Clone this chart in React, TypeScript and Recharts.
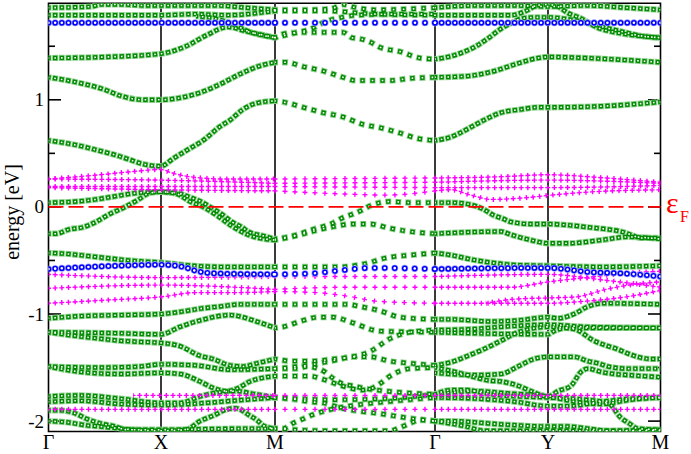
import React from "react";
import { LineChart, Line, XAxis, YAxis, ReferenceLine, ReferenceArea } from "recharts";

type Pt = [number, number];

// k-path positions (pixel-like path units) and labels
const kTicks = [2.5, 115, 229, 389, 502, 614.5];
const kLabels = ["Γ", "X", "M", "Γ", "Y", "M"];
const kInner = [115, 229, 389, 502];
const yTicks = [-2, -1, 0, 1];
const yMinor = [-1.5, -0.5, 0.5, 1.5];
const yMajorMarks = [-2, -1, 0, 1];

// ---- green bands (energy in eV) ----
const u1: Pt[] = [[2.5,1.86],[45,1.87],[55,1.89],[75,1.89],[100,1.88],[115,1.88],[170,1.88],[200,1.86],[229,1.84],[260,1.84],[285,1.85],[297,1.89],[310,1.86],[330,1.84],[389,1.86],[430,1.88],[470,1.88],[502,1.87],[540,1.88],[580,1.86],[614.5,1.84]];
const u2: Pt[] = [[2.5,1.79],[115,1.79],[150,1.80],[180,1.79],[229,1.83],[280,1.83],[330,1.80],[389,1.79],[465,1.79],[480,1.83],[491,1.88],[502,1.89],[512,1.87],[522,1.81],[535,1.76],[550,1.68],[575,1.62],[600,1.59],[614.5,1.58]];
const u4: Pt[] = [[2.5,1.39],[60,1.40],[115,1.43],[140,1.50],[160,1.60],[182,1.68],[200,1.64],[229,1.58],[247,1.62],[267,1.67],[277,1.72],[296,1.77],[310,1.79],[350,1.80],[389,1.80]];
const u5: Pt[] = [[229,1.58],[240,1.62],[260,1.63],[297,1.63],[306,1.58],[314,1.57],[324,1.54],[334,1.49],[354,1.45],[374,1.39],[389,1.38],[402,1.40],[416,1.44],[430,1.50],[443,1.58],[456,1.67],[466,1.72],[476,1.76],[490,1.77],[502,1.77],[530,1.74],[570,1.65],[600,1.59],[614.5,1.58]];
const u6: Pt[] = [[150,1.78],[168,1.76],[183,1.72],[205,1.63],[229,1.58]];
const u7: Pt[] = [[2.5,1.21],[16,1.19],[37,1.15],[57,1.10],[77,1.03],[97,1.00],[115,1.00],[135,1.02],[155,1.07],[175,1.15],[194,1.24],[215,1.32],[229,1.35],[240,1.35],[257,1.31],[277,1.27],[297,1.21],[310,1.18],[344,1.18],[364,1.20],[389,1.21],[420,1.22],[445,1.26],[472,1.34],[492,1.39],[502,1.40],[540,1.39],[614.5,1.35]];
const u8: Pt[] = [[2.5,0.62],[17,0.60],[34,0.57],[51,0.53],[71,0.48],[84,0.44],[97,0.40],[115,0.38],[127,0.45],[141,0.53],[157,0.62],[174,0.75],[184,0.81],[197,0.91],[211,0.97],[229,0.99],[237,0.98],[257,0.93],[277,0.88],[297,0.84],[317,0.77],[334,0.74],[354,0.69],[371,0.64],[389,0.62],[404,0.65],[414,0.69],[424,0.74],[438,0.81],[455,0.88],[475,0.91],[492,0.93],[502,0.93],[555,0.94],[614.5,0.98]];
const m1: Pt[] = [[2.5,0.04],[30,0.05],[50,0.07],[70,0.10],[91,0.13],[115,0.14],[131,0.13],[144,0.09],[157,0.04],[164,0.0],[176,-0.07],[186,-0.14],[196,-0.19],[202,-0.23],[217,-0.27],[229,-0.30],[247,-0.27],[267,-0.21],[287,-0.15],[297,-0.10],[306,-0.07],[316,-0.03],[324,0.01],[334,0.04],[344,0.05],[364,0.04],[389,0.04],[405,0.04],[425,0.02],[437,-0.02],[448,-0.08],[457,-0.11],[465,-0.14],[485,-0.16],[502,-0.16],[522,-0.17],[542,-0.19],[562,-0.21],[575,-0.23],[585,-0.26],[595,-0.29],[614.5,-0.29]];
const m2: Pt[] = [[2.5,-0.25],[10,-0.25],[23,-0.21],[37,-0.19],[50,-0.14],[63,-0.07],[77,-0.01],[91,0.06],[104,0.13],[115,0.14],[131,0.12],[144,0.05],[157,0.0],[171,-0.08],[186,-0.18],[202,-0.26],[229,-0.31],[250,-0.27],[270,-0.22],[290,-0.18],[306,-0.16],[324,-0.16],[344,-0.20],[364,-0.23],[389,-0.25],[455,-0.23],[465,-0.26],[485,-0.31],[502,-0.34],[522,-0.34],[555,-0.31],[582,-0.28],[614.5,-0.30]];
const m3: Pt[] = [[2.5,-0.43],[23,-0.44],[43,-0.46],[63,-0.48],[83,-0.50],[115,-0.52],[148,-0.55],[177,-0.56],[229,-0.56],[267,-0.56],[294,-0.56],[314,-0.54],[324,-0.52],[334,-0.49],[344,-0.47],[364,-0.45],[389,-0.43],[405,-0.45],[425,-0.49],[445,-0.52],[465,-0.54],[502,-0.55],[555,-0.56],[614.5,-0.55]];
const l1: Pt[] = [[2.5,-1.04],[34,-1.02],[74,-1.01],[115,-1.00],[134,-0.98],[154,-0.95],[174,-0.93],[194,-0.91],[229,-0.91],[301,-0.91],[314,-0.93],[334,-0.97],[354,-1.03],[389,-1.05],[405,-1.05],[445,-1.07],[472,-1.06],[502,-1.03],[512,-1.04],[528,-1.00],[542,-0.93],[558,-0.90],[614.5,-0.91]];
const l2: Pt[] = [[2.5,-1.17],[74,-1.18],[115,-1.19],[134,-1.12],[154,-1.06],[184,-1.01],[197,-1.03],[204,-1.05],[217,-1.09],[229,-1.13],[237,-1.12],[257,-1.06],[272,-1.03],[287,-1.03],[306,-1.08],[334,-1.16],[389,-1.17],[502,-1.19],[508,-1.16],[522,-1.13],[614.5,-1.13]];
const l3: Pt[] = [[2.5,-1.17],[34,-1.21],[54,-1.23],[74,-1.25],[94,-1.26],[115,-1.27],[134,-1.30],[154,-1.39],[167,-1.42],[184,-1.48],[197,-1.49],[211,-1.46],[229,-1.42],[247,-1.44],[267,-1.44],[287,-1.42],[306,-1.40],[324,-1.35],[344,-1.23],[364,-1.17],[389,-1.15],[428,-1.14],[455,-1.12],[502,-1.10],[540,-1.12],[614.5,-1.13]];
const l4: Pt[] = [[2.5,-1.49],[54,-1.50],[94,-1.49],[115,-1.47],[150,-1.48],[184,-1.52],[229,-1.51],[251,-1.51],[261,-1.49],[277,-1.53],[287,-1.60],[296,-1.65],[306,-1.67],[316,-1.69],[340,-1.72],[389,-1.75],[405,-1.71],[422,-1.71],[438,-1.74],[455,-1.76],[502,-1.78],[540,-1.80],[562,-1.83],[575,-1.97],[583,-2.02],[592,-2.07],[614.5,-2.08]];
const l5: Pt[] = [[2.5,-1.49],[34,-1.54],[74,-1.56],[115,-1.55],[134,-1.56],[154,-1.63],[167,-1.69],[181,-1.72],[190,-1.70],[204,-1.63],[229,-1.58],[264,-1.58],[277,-1.61],[296,-1.67],[316,-1.71],[324,-1.70],[334,-1.65],[344,-1.58],[364,-1.51],[389,-1.50],[405,-1.53],[425,-1.58],[442,-1.62],[455,-1.63],[472,-1.67],[485,-1.72],[502,-1.77],[512,-1.72],[525,-1.67],[535,-1.54],[542,-1.51],[555,-1.54],[568,-1.56],[582,-1.57],[614.5,-1.59]];
const l6a: Pt[] = [[2.5,-1.77],[34,-1.76],[74,-1.79],[115,-1.83],[134,-1.83],[154,-1.77],[167,-1.74],[190,-1.72],[210,-1.75],[229,-1.78],[251,-1.80],[264,-1.82],[277,-1.83],[296,-1.88],[316,-1.91],[334,-1.93],[354,-1.96],[389,-2.00],[405,-2.00],[455,-2.03],[502,-2.05],[522,-2.05],[542,-2.07],[562,-2.09],[614.5,-2.08]];
const l6b: Pt[] = [[2.5,-1.82],[34,-1.81],[74,-1.84],[115,-1.85],[160,-1.83],[200,-1.80],[229,-1.78],[290,-1.80],[340,-1.79],[389,-1.75],[430,-1.72],[460,-1.74],[502,-1.77],[530,-1.82],[555,-1.84],[585,-1.80],[614.5,-1.78]];
const l7: Pt[] = [[2.5,-1.90],[14,-1.90],[27,-1.92],[41,-1.98],[54,-2.02],[69,-2.05],[81,-2.08],[115,-2.08],[200,-2.07],[229,-2.07],[280,-2.09],[344,-2.09],[354,-2.06],[364,-2.02],[374,-1.99],[389,-2.00],[420,-2.05],[438,-2.09],[502,-2.09],[614.5,-2.09]];
const l8: Pt[] = [[2.5,-2.00],[20,-2.01],[41,-2.04],[54,-2.05],[74,-2.07],[115,-2.09],[140,-2.08],[154,-2.00],[167,-1.95],[181,-1.89],[190,-1.88],[204,-1.95],[211,-1.99],[217,-2.04],[229,-2.07],[237,-2.07],[247,-2.02],[257,-1.98],[267,-1.94],[277,-1.91],[290,-1.88],[310,-1.85],[340,-1.82],[389,-1.78],[430,-1.79],[470,-1.82],[502,-1.86],[522,-1.86],[555,-1.82],[585,-1.79],[614.5,-1.78]];
const l10: Pt[] = [[229,-1.51],[260,-1.48],[290,-1.43],[306,-1.40],[324,-1.40],[344,-1.44],[364,-1.46],[389,-1.48],[405,-1.45],[422,-1.39],[442,-1.31],[455,-1.25],[472,-1.17],[490,-1.13],[502,-1.12],[528,-1.14],[548,-1.25],[562,-1.30],[572,-1.33],[582,-1.37],[605,-1.42],[614.5,-1.42]];
const l11: Pt[] = [[389,-1.55],[430,-1.57],[455,-1.56],[472,-1.49],[488,-1.42],[502,-1.40],[528,-1.40],[542,-1.44],[552,-1.46],[562,-1.49],[582,-1.51],[614.5,-1.51]];

// ---- magenta (plus) bands ----
const p1: Pt[] = [[2.5,0.26],[54,0.30],[87,0.33],[115,0.35],[125,0.32],[145,0.28],[180,0.26],[229,0.26],[389,0.27],[450,0.28],[502,0.30],[560,0.27],[614.5,0.23]];
const p2: Pt[] = [[2.5,0.26],[115,0.25],[229,0.22],[389,0.23],[502,0.25],[614.5,0.22]];
const p3: Pt[] = [[2.5,0.19],[115,0.19],[229,0.19],[389,0.18],[502,0.18],[614.5,0.20]];
const p4: Pt[] = [[2.5,0.18],[115,0.16],[229,0.15],[300,0.12],[340,0.11],[389,0.15],[405,0.16],[425,0.11],[445,0.07],[485,0.09],[505,0.11],[545,0.14],[614.5,0.16]];
const q1: Pt[] = [[2.5,-0.63],[115,-0.66],[229,-0.65],[389,-0.65],[502,-0.63],[555,-0.68],[614.5,-0.75]];
const q2: Pt[] = [[2.5,-0.76],[115,-0.73],[229,-0.77],[300,-0.75],[389,-0.75],[465,-0.75],[502,-0.70],[540,-0.66],[580,-0.62],[614.5,-0.60]];
const q3: Pt[] = [[2.5,-0.90],[60,-0.87],[115,-0.84],[150,-0.80],[190,-0.80],[229,-0.79],[270,-0.80],[306,-0.84],[330,-0.88],[389,-0.90],[502,-0.90],[540,-0.88],[580,-0.84],[614.5,-0.78]];
const q4: Pt[] = [[440,-0.90],[470,-0.86],[502,-0.85],[530,-0.84],[560,-0.77],[590,-0.72],[614.5,-0.70]];
const q5: Pt[] = [[87,-1.76],[229,-1.76],[389,-1.76],[502,-1.76],[614.5,-1.76]];
const q6: Pt[] = [[2.5,-1.89],[229,-1.89],[389,-1.89],[502,-1.89],[614.5,-1.89]];

// ---- blue (circle) bands ----
const blueTop: Pt[] = [[2.5,1.72],[115,1.72],[229,1.72],[389,1.72],[502,1.72],[614.5,1.72]];
const blueLow: Pt[] = [[2.5,-0.58],[70,-0.55],[115,-0.54],[137,-0.56],[151,-0.60],[167,-0.62],[229,-0.63],[267,-0.62],[297,-0.59],[324,-0.57],[389,-0.58],[502,-0.57],[545,-0.61],[575,-0.62],[614.5,-0.65]];

const greenBands = [u1, u2, u4, u5, u6, u7, u8, m1, m2, m3, l1, l2, l3, l4, l5, l6a, l6b, l7, l8, l10, l11];
const pinkBands = [p1, p2, p3, p4, q1, q2, q3, q4, q5, q6];
const blueBands = [blueTop, blueLow];

const RANGES: [number, number][] = [[-1, 229], [229, 389], [389, 1000]];
const PERIODS = [6.66, 10, 6.63];

const FONT = "'Liberation Serif', 'DejaVu Serif', serif";

function splitBand(b: Pt[]) {
  return RANGES.map(([a, z], i) => ({
    i,
    pts: b.filter(([k]) => k >= a && k <= z).map(([k, e]) => ({ k, e })),
  })).filter((p) => p.pts.length >= 2);
}

type Layer = { stroke: string; w: number; dash: number; cap?: "round" | "butt" };

const greenLayers: Layer[] = [
  { stroke: "#8fd08f", w: 6.2, dash: 6 },
  { stroke: "#008a00", w: 4.4, dash: 4.4 },
  { stroke: "#ffffff", w: 1.6, dash: 1.6 },
];
const pinkLayers: Layer[] = [
  { stroke: "#ff00ff", w: 1.4, dash: 5 },
  { stroke: "#ff00ff", w: 5, dash: 1.4 },
];
const blueLayers: Layer[] = [
  { stroke: "#9a9aff", w: 7, dash: 0.01, cap: "round" },
  { stroke: "#0000ff", w: 5.6, dash: 0.01, cap: "round" },
  { stroke: "#ffffff", w: 2.6, dash: 0.01, cap: "round" },
];

function makeLines(bands: Pt[][], layers: Layer[], prefix: string) {
  const out: React.ReactElement[] = [];
  layers.forEach((L, li) => {
    bands.forEach((b, bi) => {
      splitBand(b).forEach((part) => {
        const P = PERIODS[part.i];
        out.push(
          <Line
            key={`${prefix}-${li}-${bi}-${part.i}`}
            data={part.pts}
            dataKey="e"
            type="monotone"
            stroke={L.stroke}
            strokeWidth={L.w}
            strokeDasharray={`${L.dash} ${(P - L.dash).toFixed(3)}`}
            strokeDashoffset={L.dash / 2}
            strokeLinecap={L.cap || "butt"}
            dot={false}
            activeDot={false}
            isAnimationActive={false}
            legendType="none"
          />
        );
      });
    });
  });
  return out;
}

const XTick = (props: any) => {
  const { x, payload } = props;
  const idx = kTicks.indexOf(payload.value);
  return (
    <text x={x} y={449} textAnchor="middle" fontFamily={FONT} fontSize={20} fill="#000">
      {kLabels[idx]}
    </text>
  );
};

const YTick = (props: any) => {
  const { y, payload } = props;
  return (
    <text x={44} y={y + 6.5} textAnchor="end" fontFamily={FONT} fontSize={19} fill="#000">
      {String(payload.value)}
    </text>
  );
};

const YLabel = () => (
  <text
    x={19}
    y={212}
    transform="rotate(-90 19 212)"
    textAnchor="middle"
    fontFamily={FONT}
    fontSize={20}
    fill="#000"
  >
    energy [eV]
  </text>
);

const EpsLabel = () => (
  <g>
    <text x={666} y={213} fontFamily={FONT} fontSize={30} fill="#ff0000">ε</text>
    <text x={680} y={222} fontFamily={FONT} fontSize={16} fill="#ff0000">F</text>
  </g>
);

export default function App() {
  return (
    <div style={{ position: "absolute", left: 0, top: 0, width: 691, height: 454, background: "#fff" }}>
      <LineChart width={691} height={454} margin={{ top: 3.3, right: 30.5, bottom: 0, left: 0.5 }}>
        <XAxis
          type="number"
          dataKey="k"
          domain={[2.5, 614.5]}
          ticks={kTicks}
          interval={0}
          allowDataOverflow
          height={22.5}
          axisLine={false}
          tickLine={false}
          tick={<XTick />}
        />
        <YAxis
          type="number"
          dataKey="e"
          domain={[-2.097, 1.901]}
          ticks={yTicks}
          interval={0}
          allowDataOverflow
          width={48}
          axisLine={false}
          tickLine={false}
          tick={<YTick />}
          label={<YLabel />}
        />
        {kInner.map((k) => (
          <ReferenceLine key={`v${k}`} x={k} stroke="#3a3a3a" strokeWidth={2} />
        ))}
        {yMajorMarks.map((y) => (
          <ReferenceLine key={`tl${y}`} segment={[{ x: 2.5, y }, { x: 15, y }]} stroke="#000" strokeWidth={1.6} />
        ))}
        {yMajorMarks.map((y) => (
          <ReferenceLine key={`tr${y}`} segment={[{ x: 602, y }, { x: 614.5, y }]} stroke="#000" strokeWidth={1.6} />
        ))}
        {yMinor.map((y) => (
          <ReferenceLine key={`ml${y}`} segment={[{ x: 2.5, y }, { x: 9, y }]} stroke="#000" strokeWidth={1.6} />
        ))}
        {yMinor.map((y) => (
          <ReferenceLine key={`mr${y}`} segment={[{ x: 608, y }, { x: 614.5, y }]} stroke="#000" strokeWidth={1.6} />
        ))}
        {makeLines(greenBands, greenLayers, "g")}
        <ReferenceLine y={0} stroke="#ff0000" strokeWidth={1.6} strokeDasharray="15 5" label={<EpsLabel />} />
        {makeLines(pinkBands, pinkLayers, "p")}
        {makeLines(blueBands, blueLayers, "b")}
        <ReferenceArea x1={2.5} x2={614.5} y1={-2.097} y2={1.901} fill="none" stroke="#000" strokeWidth={1.6} ifOverflow="visible" />
      </LineChart>
    </div>
  );
}
